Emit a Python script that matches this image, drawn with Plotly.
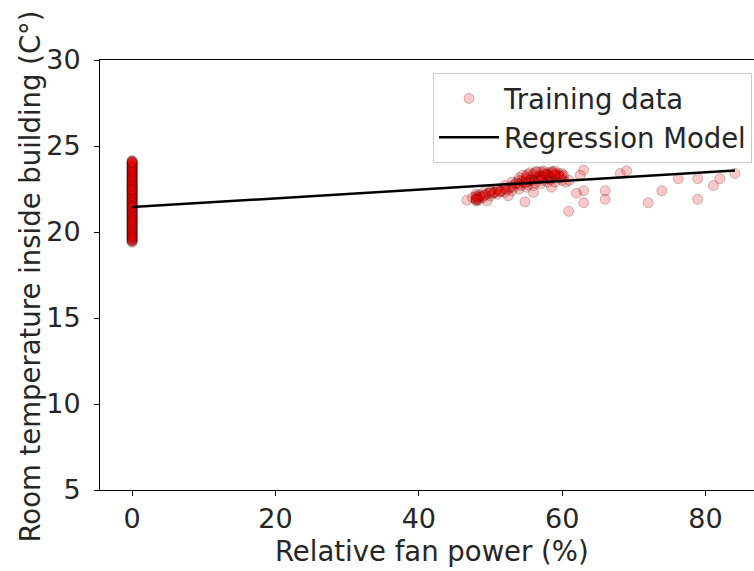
import plotly.graph_objects as go

# Training data: fan power at 0 %
zero_y = [19.4, 19.45, 19.55, 19.6, 19.7, 19.75, 19.85, 19.9, 20.0, 20.05,
          20.15, 20.2, 20.3, 20.35, 20.45, 20.5, 20.6, 20.65, 20.75, 20.8,
          20.9, 20.95, 21.05, 21.1, 21.2, 21.25, 21.35, 21.4, 21.5, 21.55,
          21.65, 21.7, 21.8, 21.85, 21.95, 22.0, 22.1, 22.15, 22.25, 22.3,
          22.4, 22.45, 22.55, 22.6, 22.7, 22.75, 22.85, 22.9, 23.0, 23.05,
          23.15, 23.2, 23.3, 23.35, 23.45, 23.5, 23.6, 23.65, 23.75, 23.8,
          23.9, 23.95, 24.05, 24.1, 24.15, 19.5, 19.8, 20.1, 20.4, 20.7,
          21.0, 21.3, 21.6, 21.9, 22.2, 22.5, 22.8, 23.1, 23.4, 23.7,
          24.0, 20.25, 20.55, 20.85, 21.15, 21.45, 21.75, 22.05, 22.35, 22.65,
          22.95, 23.25, 23.55, 23.85, 19.65, 19.95,
          19.5, 19.6, 19.8, 19.9, 20.0, 20.2, 20.3, 20.5, 20.6, 20.8,
          20.9, 21.0, 21.2, 21.3, 21.5, 21.6, 21.8, 21.9, 22.0, 22.2,
          22.3, 22.5, 22.6, 22.8, 22.9, 23.0, 23.2, 23.3, 23.5, 23.6,
          23.8, 23.9, 24.0, 24.1, 21.4, 21.7, 22.1, 22.4, 22.7, 23.1,
          20.1, 20.4, 20.7, 21.1, 21.45, 22.45, 23.45, 23.7, 19.7, 24.05]
zero_x = [0.0] * len(zero_y)

# Training data: running fan (dense cluster)
clu_x = [48.0, 48.0, 48.0, 48.0, 48.0, 48.3, 48.5, 49.0, 49.0, 49.5,
         50.0, 50.0, 50.0, 50.5, 51.0, 51.0, 51.0, 51.5, 52.0, 52.0,
         52.0, 52.5, 53.0, 53.0, 53.0, 53.5, 54.0, 54.0, 54.0, 54.0,
         54.5, 55.0, 55.0, 55.0, 55.0, 55.5, 56.0, 56.0, 56.0, 56.0,
         56.5, 57.0, 57.0, 57.0, 57.0, 57.5, 58.0, 58.0, 58.0, 58.0,
         58.5, 59.0, 59.0, 59.0, 59.5, 60.0, 60.0, 60.0, 48.2, 48.6,
         49.2, 50.3, 51.2, 52.8, 53.6, 54.4, 55.2, 55.8, 56.7, 57.3,
         57.8, 58.3, 58.9, 59.6, 60.2, 48.0, 48.1, 48.4, 49.0, 49.8,
         50.6, 51.4, 52.2, 53.2, 54.2, 54.8, 55.4, 56.2, 56.8, 57.2,
         57.6, 58.2, 58.6, 59.2, 59.8, 55.0, 56.0, 57.0, 58.0, 59.0,
         54.5, 55.5, 56.5, 57.5, 58.5, 59.5, 55.2, 56.3, 57.4, 58.7]
clu_y = [21.8, 21.95, 22.1, 22.2, 21.85, 22.0, 22.15, 22.0, 22.3, 22.2,
         22.1, 22.35, 22.4, 22.3, 22.2, 22.45, 22.5, 22.4, 22.3, 22.55,
         22.7, 22.5, 22.4, 22.7, 22.9, 22.8, 22.5, 22.8, 23.0, 23.15,
         22.9, 22.6, 22.9, 23.1, 23.25, 23.0, 22.7, 23.0, 23.2, 23.4,
         23.1, 22.8, 23.1, 23.3, 23.5, 23.2, 22.9, 23.1, 23.3, 23.45,
         23.2, 22.9, 23.2, 23.4, 23.3, 23.0, 23.25, 23.4, 21.9, 22.05,
         22.15, 22.25, 22.35, 22.6, 22.85, 22.95, 22.75, 23.05, 23.2, 23.0,
         23.35, 23.05, 23.3, 23.15, 23.3, 21.9, 22.05, 21.85, 22.1, 22.25,
         22.3, 22.35, 22.45, 22.6, 22.7, 22.85, 23.0, 22.85, 23.1, 23.2,
         23.35, 23.25, 23.4, 23.3, 23.2, 23.15, 23.3, 23.25, 23.35, 23.3,
         23.3, 23.45, 23.5, 23.45, 23.5, 23.4, 23.35, 23.5, 23.55, 23.5]

# Training data: running fan (sparse points)
spr_x = [46.7, 47.5, 49.5, 52.5, 54.8, 56.0, 58.5, 60.5, 61.0, 59.0,
         62.5, 63.0, 60.9, 62.0, 63.0, 63.0, 66.0, 66.0, 68.1, 69.0,
         72.0, 73.9, 76.2, 78.9, 78.9, 81.1, 82.0, 84.1]
spr_y = [21.85, 22.0, 21.8, 22.1, 21.75, 22.3, 22.6, 22.9, 23.0, 23.55,
         23.3, 23.6, 21.2, 22.25, 22.4, 21.7, 22.4, 21.9, 23.4, 23.56,
         21.7, 22.4, 23.1, 23.1, 21.9, 22.7, 23.1, 23.4]

# Regression model prediction
reg_x = [0.0, 84.1]
reg_y = [21.45, 23.58]

x_ticks = [0, 20, 40, 60, 80]
y_ticks = [5, 10, 15, 20, 25, 30]

FONT = "DejaVu Sans"
TXT = "#262626"

fig = go.Figure()
fig.add_trace(go.Scatter(
    x=zero_x + clu_x + spr_x, y=zero_y + clu_y + spr_y, mode="markers",
    name="Training data",
    marker=dict(size=10, color="rgba(255,0,0,0.22)",
                line=dict(color="rgba(0,0,0,0.22)", width=1)),
))
fig.add_trace(go.Scatter(
    x=reg_x, y=reg_y, mode="lines", name="Regression Model",
    line=dict(color="black", width=2.5),
))

fig.update_layout(
    width=754, height=571,
    margin=dict(l=100, r=0, t=60, b=81, autoexpand=False),
    paper_bgcolor="white", plot_bgcolor="white",
    font=dict(family=FONT, size=27.5, color=TXT),
    showlegend=True,
    legend=dict(
        x=(752 - 100) / 654, y=(490 - 73) / 430,
        xanchor="right", yanchor="top",
        bgcolor="rgba(255,255,255,0.8)", bordercolor="#cccccc", borderwidth=1,
        font=dict(family=FONT, size=27.5, color=TXT),
        itemwidth=60,
    ),
    xaxis=dict(
        range=[-4.48, 86.76], tickvals=x_ticks, showgrid=False, zeroline=False,
        showline=True, linecolor="black", linewidth=1, mirror=True,
        ticks="outside", ticklen=5, tickcolor="black", tickwidth=1,
        tickfont=dict(family=FONT, size=27, color=TXT),
    ),
    yaxis=dict(
        range=[5, 30], tickvals=y_ticks, showgrid=False, zeroline=False,
        showline=True, linecolor="black", linewidth=1, mirror=False,
        ticks="outside", ticklen=5, tickcolor="black", tickwidth=1,
        ticklabelstandoff=8,
        tickfont=dict(family=FONT, size=27, color=TXT),
    ),
    annotations=[
        dict(text="Relative fan power (%)", xref="paper", yref="paper",
             x=(431.5 - 100) / 654, y=(490 - 551) / 430, xanchor="center",
             yanchor="middle", showarrow=False,
             font=dict(family=FONT, size=27.5, color=TXT)),
        dict(text="Room temperature inside building (C°)", xref="paper",
             yref="paper", x=(29 - 100) / 654, y=(490 - 276.5) / 430,
             xanchor="center", yanchor="middle", textangle=-90,
             showarrow=False,
             font=dict(family=FONT, size=27.5, color=TXT)),
    ],
)

fig.write_html("out.html")
